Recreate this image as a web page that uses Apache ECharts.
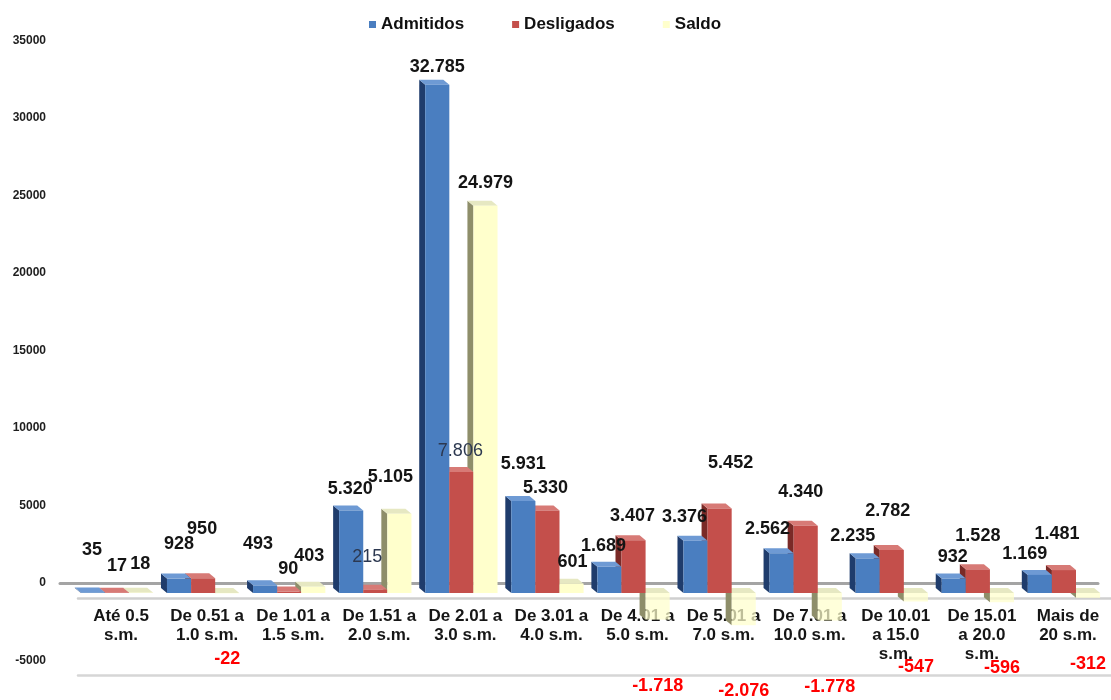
<!DOCTYPE html>
<html>
<head>
<meta charset="utf-8">
<script src="https://cdn.jsdelivr.net/npm/echarts@6/dist/echarts.min.js"></script>
<style>
  html, body { margin: 0; padding: 0; background: #ffffff; }
  #chart { width: 1111px; height: 700px; }
</style>
</head>
<body>
<div id="chart"></div>
<script>
// Faixas salariais (em salários mínimos)
const categories = [
  'Até 0.5\ns.m.', 'De 0.51 a\n1.0 s.m.', 'De 1.01 a\n1.5 s.m.', 'De 1.51 a\n2.0 s.m.',
  'De 2.01 a\n3.0 s.m.', 'De 3.01 a\n4.0 s.m.', 'De 4.01 a\n5.0 s.m.', 'De 5.01 a\n7.0 s.m.',
  'De 7.01 a\n10.0 s.m.', 'De 10.01\na 15.0\ns.m.', 'De 15.01\na 20.0\ns.m.', 'Mais de\n20 s.m.'
];
const seriesNames = ['Admitidos', 'Desligados', 'Saldo'];
const admitidos  = [35, 928, 493, 5320, 32785, 5931, 1689, 3376, 2562, 2235, 932, 1169];
const desligados = [17, 950, 90, 215, 7806, 5330, 3407, 5452, 4340, 2782, 1528, 1481];
const saldo      = [18, -22, 403, 5105, 24979, 601, -1718, -2076, -1778, -547, -596, -312];
const yMin = -5000, yMax = 35000, yStep = 5000;

// label placement: gap beyond the bar end and sideways nudge, per category
const labelGap = {
  Admitidos:  [33, 26, 32, 13, 9, 28, 12, 15, 15, 13, 13, 12],
  Desligados: [18, 40, 14, 24, 12, 13, 15, 36, 25, 30, 24, 27],
  Saldo:      [20, 57, 22, 28, 14, 13, 57, 57, 57, 57, 57, 57]
};
const labelShift = {
  Admitidos:  [-1, 0, -7, -1, 0, 0, -6, -11, -14, -15, -1, -15],
  Desligados: [0, -1, -1, -8, -1, -2, -1, 11, -5, -4, 0, -7],
  Saldo:      [-1, 0, -4, -9, 0, 1, 0, 0, 0, 0, 0, 0]
};
// Desligados labels that sit over the neighbouring bar in a lighter weight
const plainDesligadosLabels = [3, 4];

const FONT = '"Liberation Sans", Arial, sans-serif';

// face colours: front, side, top
const palette = {
  Admitidos:  { front: '#4a7ec0', side: '#1f3c6c', top: '#6e9ad4' },
  Desligados: { front: '#c44f4b', side: '#7a2a27', top: '#d77a76' },
  Saldo:      { front: '#ffffcc', side: '#8e8e6a', top: '#e6e8c2' }
};
const belowFloorFront = 'rgba(255, 255, 204, 0.72)';

function fmt(v) {
  return String(v).replace(/\B(?=(\d{3})+(?!\d))/g, '.');
}

const BAR_FRAC = 0.28;   // bar width as share of category band
const DX = 6, DY = 5;    // depth offset of the 3D faces

// side + top faces drawn behind the flat bar fronts
function depthFaces(offsetIdx, colors) {
  return function (params, api) {
    const idx = api.value(0);
    const v = api.value(1);
    const band = api.size([1, 0])[0];
    const bw = band * BAR_FRAC;
    const base = api.coord([idx, 0]);
    const end = api.coord([idx, v]);
    const x0 = base[0] + (offsetIdx - 0.5) * bw;
    const yTop = Math.min(base[1], end[1]);
    const yBot = Math.max(base[1], end[1]);
    return {
      type: 'group',
      children: [
        {
          type: 'polygon',
          shape: { points: [[x0, yTop], [x0 - DX, yTop - DY], [x0 - DX, yBot - DY], [x0, yBot]] },
          style: { fill: colors.side }
        },
        {
          type: 'polygon',
          shape: { points: [[x0, yTop], [x0 + bw, yTop], [x0 + bw - DX, yTop - DY], [x0 - DX, yTop - DY]] },
          style: { fill: colors.top }
        }
      ]
    };
  };
}

const valueSets = { Admitidos: admitidos, Desligados: desligados, Saldo: saldo };

const labelBase = {
  show: true,
  position: 'top',
  fontFamily: FONT,
  fontSize: 18,
  fontWeight: 'bold',
  color: '#141414',
  formatter: p => fmt(p.value)
};

function barItems(name) {
  return valueSets[name].map((v, i) => {
    const label = { distance: labelGap[name][i], offset: [labelShift[name][i], 0] };
    const item = { value: v, label: label };
    if (v < 0) {
      label.position = 'bottom';
      label.color = '#ff0000';
      item.itemStyle = { color: belowFloorFront };
    }
    if (name === 'Desligados' && plainDesligadosLabels.includes(i)) {
      label.fontWeight = 'normal';
      label.color = '#2c3850';
    }
    return item;
  });
}

const frontSeries = seriesNames.map(name => ({
  name: name, type: 'bar', xAxisIndex: 1, yAxisIndex: 1, z: 3,
  barWidth: (BAR_FRAC * 100) + '%', barGap: '0%',
  itemStyle: { color: palette[name].front },
  label: labelBase,
  data: barItems(name)
}));

// faces for the right-most series first so the left bars' tops overlap correctly
const faceSeries = ['Saldo', 'Desligados', 'Admitidos'].map(name => ({
  name: name + ' 3d',
  type: 'custom',
  xAxisIndex: 1, yAxisIndex: 1, z: 2,
  silent: true,
  renderItem: depthFaces(seriesNames.indexOf(name) - 1, palette[name]),
  encode: { x: 0, y: 1 },
  data: valueSets[name].map((v, i) => [i, v])
}));

const hiddenY = { type: 'value', min: yMin, max: yMax, interval: yStep, show: false };
const gridBase = { containLabel: false, outerBoundsMode: 'none' };

const option = {
  backgroundColor: '#ffffff',
  animation: false,
  textStyle: { fontFamily: FONT },
  legend: {
    data: seriesNames,
    left: 364, top: 11,
    icon: 'rect', itemWidth: 7, itemHeight: 7, itemGap: 48,
    textStyle: { fontFamily: FONT, fontSize: 17, fontWeight: 'bold', color: '#111' }
  },
  grid: [
    Object.assign({ left: 60, right: 13, top: 40.5, bottom: 39.5 }, gridBase),  // back wall
    Object.assign({ left: 74, right: 4, top: 50.5, bottom: 29.5 }, gridBase),   // bars
    Object.assign({ left: 78, right: 0, top: 55.5, bottom: 102 }, gridBase),    // floor front edge
    Object.assign({ left: 78, right: 0, top: 0, bottom: 24.5 }, gridBase)       // bottom edge
  ],
  xAxis: [
    {
      gridIndex: 0, type: 'category', data: categories,
      axisLine: { onZero: true, lineStyle: { color: '#a4a4a4', width: 3 } },
      axisTick: { show: false }, axisLabel: { show: false }
    },
    { gridIndex: 1, type: 'category', data: categories, show: false },
    {
      gridIndex: 2, type: 'category', data: categories, position: 'bottom',
      axisLine: { onZero: false, lineStyle: { color: '#cfcfcf', width: 2.5 } },
      axisTick: { show: false },
      axisLabel: {
        interval: 0, margin: 9, fontFamily: FONT, fontSize: 17, fontWeight: 'bold',
        lineHeight: 19, color: '#161616'
      }
    },
    {
      gridIndex: 3, type: 'category', data: categories, position: 'bottom',
      axisLine: { onZero: false, lineStyle: { color: '#d6d6d6', width: 2.5 } },
      axisTick: { show: false }, axisLabel: { show: false }
    }
  ],
  yAxis: [
    {
      gridIndex: 0, type: 'value', min: yMin, max: yMax, interval: yStep,
      axisLine: { show: false }, axisTick: { show: false }, splitLine: { show: false },
      axisLabel: {
        margin: 14, fontFamily: FONT, fontSize: 12, fontWeight: 'bold', color: '#1e1e1e',
        formatter: v => String(v)
      }
    },
    Object.assign({ gridIndex: 1 }, hiddenY),
    { gridIndex: 2, type: 'value', min: 0, max: 1, show: false },
    { gridIndex: 3, type: 'value', min: 0, max: 1, show: false }
  ],
  series: faceSeries.concat(frontSeries)
};

const chart = echarts.init(document.getElementById('chart'), null, { renderer: 'canvas' });
chart.setOption(option);
</script>
</body>
</html>
